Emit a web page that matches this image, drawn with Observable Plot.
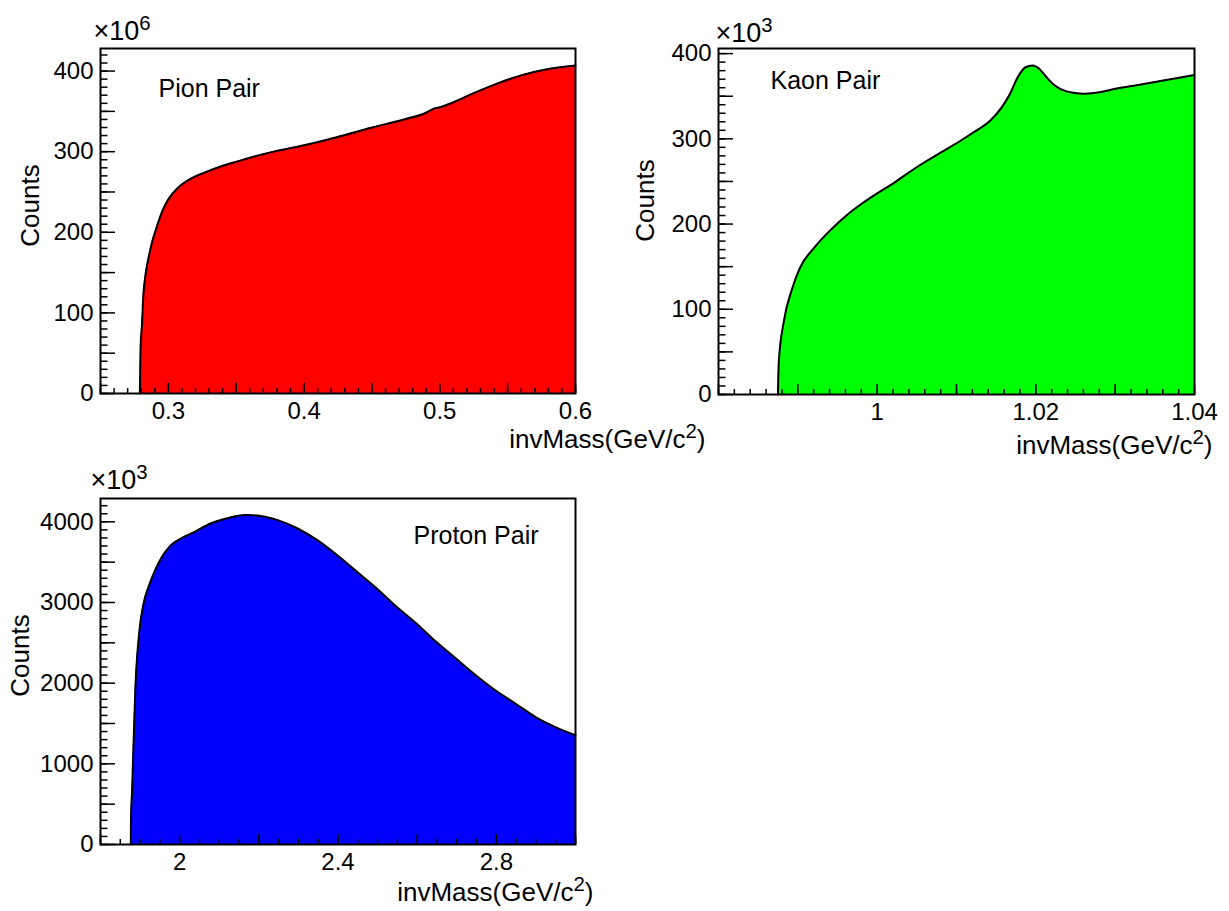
<!DOCTYPE html>
<html><head><meta charset="utf-8">
<script src="https://cdn.jsdelivr.net/npm/d3@7"></script>
<script src="https://cdn.jsdelivr.net/npm/@observablehq/plot@0.6"></script>
<style>
html,body{margin:0;padding:0;background:#fff;}
#wrap{position:relative;width:1229px;height:911px;overflow:hidden;background:#fff;}
.panel{position:absolute;}
.panel svg{overflow:visible;display:block;}
</style></head><body><div id="wrap"></div>
<script>
// ---- Pion pair (counts in units of 10^6) ----
const pionMass   = [0.2790,0.2795,0.2806,0.2815,0.2829,0.2850,0.2873,0.2917,0.2960,0.3000,0.3075,0.3160,0.3280,0.3390,0.3510,0.3655,0.3800,0.4000,0.4240,0.4500,0.4735,0.4895,0.4965,0.5000,0.5080,0.5255,0.5430,0.5605,0.5780,0.6000];
const pionCounts = [0,55,87,120,144,165,183,208,228,241,256,266,275,282,288,295,301,308,318,330,340,348,354,355,360,373,385,395,402,407];

// ---- Kaon pair (counts in units of 10^3) ----
const kaonMass   = [0.98749,0.98760,0.98824,0.98924,0.99024,0.99223,0.99423,0.99623,0.99823,1.00000,1.00222,1.00422,1.00622,1.00821,1.01021,1.01220,1.01420,1.01570,1.01670,1.01770,1.01870,1.01960,1.02045,1.02120,1.02220,1.02320,1.02470,1.02620,1.02820,1.03020,1.03270,1.03520,1.03770,1.04000];
const kaonCounts = [0,38,86,123,148,174,194,211,225,236,249,262,274,285,296,308,321,337,352,372,384,386,382,374,364,358,354,353,355,359,363,367,371,375];

// ---- Proton pair (counts in units of 10^3) ----
const protonMass   = [1.8765,1.8770,1.880,1.888,1.898,1.908,1.923,1.938,1.958,1.978,2.003,2.038,2.078,2.118,2.168,2.208,2.248,2.298,2.348,2.403,2.448,2.498,2.548,2.603,2.648,2.698,2.748,2.803,2.848,2.898,2.948,3.000];
const protonCounts = [0,300,694,1934,2636,2967,3215,3400,3587,3711,3793,3876,3979,4041,4083,4070,4021,3917,3773,3566,3380,3174,2946,2719,2512,2306,2099,1893,1748,1583,1459,1355];

// ---- axis tick labels ----
const pionXLabels = [0.3,0.4,0.5,0.6];
const pionYLabels = [0,100,200,300,400];
const kaonXLabels = [1.00,1.02,1.04];
const kaonYLabels = [0,100,200,300,400];
const protonXLabels = [2.0,2.4,2.8];
const protonYLabels = [0,1000,2000,3000,4000];

const FONT = "'Liberation Sans', Arial, Helvetica, sans-serif";
const LABEL_SIZE = 24, TITLE_SIZE = 26, NAME_SIZE = 25, EXP_SIZE = 27;

function steps(start, stop, step) {
  const n = Math.round((stop - start) / step);
  return d3.range(n + 1).map(i => +(start + i * step).toFixed(6));
}
const fmt = d => String(+(+d).toFixed(3));

function panel(c) {
  const fw = c.width - c.ml - c.mr, fh = c.height - c.mt - c.mb;
  const data = c.xs.map((x, i) => ({x, y: c.ys[i]}));
  const xMinor = steps(c.xDomain[0], c.xDomain[1], c.xMinor);
  const xMajor = steps(c.xDomain[0], c.xDomain[1], c.xMajor);
  const yMinor = steps(0, c.yDomain[1], c.yMinor).filter(v => v <= c.yDomain[1]);
  const yMajor = steps(0, c.yDomain[1], c.yMajor).filter(v => v <= c.yDomain[1]);
  const svg = Plot.plot({
    width: c.width, height: c.height,
    marginTop: c.mt, marginRight: c.mr, marginBottom: c.mb, marginLeft: c.ml,
    style: {fontFamily: FONT, fontSize: LABEL_SIZE + "px", color: "#000", background: "transparent", overflow: "visible"},
    x: {domain: c.xDomain, axis: null},
    y: {domain: c.yDomain, axis: null},
    marks: [
      Plot.areaY(data, {x: "x", y: "y", fill: c.fill, curve: "monotone-x"}),
      Plot.lineY(data, {x: "x", y: "y", stroke: "#000", strokeWidth: 2, curve: "monotone-x"}),
      Plot.ruleX(xMinor, {x: d => d, insetTop: fh - 5, stroke: "#000", strokeWidth: 1.5}),
      Plot.ruleX(xMajor, {x: d => d, insetTop: fh - 10, stroke: "#000", strokeWidth: 1.5}),
      Plot.ruleY(yMinor, {y: d => d, insetRight: fw - 7.5, stroke: "#000", strokeWidth: 1.5}),
      Plot.ruleY(yMajor, {y: d => d, insetRight: fw - 15, stroke: "#000", strokeWidth: 1.5}),
      Plot.frame({stroke: "#000", strokeWidth: 2}),
      Plot.axisX({ticks: c.xLabels, tickSize: 0, tickPadding: 8, tickFormat: fmt, fontSize: LABEL_SIZE, label: null}),
      Plot.axisY({ticks: c.yLabels, tickSize: 0, tickPadding: 7, tickFormat: fmt, fontSize: LABEL_SIZE, label: null}),
      Plot.text([c.exp], {frameAnchor: "top-left", dx: c.expPos[0], dy: c.expPos[1], textAnchor: "start", lineAnchor: "middle", fontSize: EXP_SIZE}),
      Plot.text(["Counts"], {frameAnchor: "top-left", dx: c.countsPos[0], dy: c.countsPos[1], rotate: -90, textAnchor: "middle", lineAnchor: "middle", fontSize: TITLE_SIZE}),
      Plot.text(["invMass(GeV/c^{2})"], {frameAnchor: "bottom-right", dx: c.titlePos[0], dy: c.titlePos[1], textAnchor: "end", lineAnchor: "middle", fontSize: TITLE_SIZE}),
      Plot.text([c.name], {frameAnchor: "top-left", dx: c.namePos[0], dy: c.namePos[1], textAnchor: "start", lineAnchor: "middle", fontSize: NAME_SIZE})
    ]
  });
  // superscripts
  d3.select(svg).selectAll("text").each(function () {
    const t = this.textContent;
    const m = t.match(/^(.*)\^\{(.*?)\}(.*)$/);
    if (!m) return;
    const size = parseFloat(this.getAttribute("font-size")) || LABEL_SIZE;
    const sel = d3.select(this);
    sel.text(null);
    sel.append("tspan").text(m[1]);
    sel.append("tspan").attr("dy", -0.42 * size).attr("font-size", 0.85 * size).text(m[2]);
    if (m[3]) sel.append("tspan").attr("dy", 0.42 * size).text(m[3]);
  });
  const div = document.createElement("div");
  div.className = "panel";
  div.style.left = c.left + "px";
  div.style.top = c.top + "px";
  div.style.width = c.width + "px";
  div.style.height = c.height + "px";
  div.appendChild(svg);
  document.getElementById("wrap").appendChild(div);
}

panel({
  left: 0, top: 0, width: 720, height: 455, mt: 48, mr: 145, mb: 62, ml: 100,
  xs: pionMass, ys: pionCounts, fill: "#ff0000",
  xDomain: [0.25, 0.6], yDomain: [0, 428],
  xMinor: 0.01, xMajor: 0.05, yMinor: 10, yMajor: 50,
  xLabels: pionXLabels, yLabels: pionYLabels,
  exp: "×10^{6}", expPos: [-7, -17], countsPos: [-70, 157], titlePos: [130, 46],
  name: "Pion Pair", namePos: [58, 40]
});
panel({
  left: 600, top: 0, width: 629, height: 455, mt: 48, mr: 35, mb: 61, ml: 118,
  xs: kaonMass, ys: kaonCounts, fill: "#00ff00",
  xDomain: [0.98, 1.04], yDomain: [0, 406],
  xMinor: 0.002, xMajor: 0.01, yMinor: 10, yMajor: 50,
  xLabels: kaonXLabels, yLabels: kaonYLabels,
  exp: "×10^{3}", expPos: [-3, -15], countsPos: [-73, 152], titlePos: [18, 51],
  name: "Kaon Pair", namePos: [52, 32]
});
panel({
  left: 0, top: 455, width: 620, height: 456, mt: 43, mr: 45, mb: 67, ml: 100,
  xs: protonMass, ys: protonCounts, fill: "#0000ff",
  xDomain: [1.8, 3.0], yDomain: [0, 4289],
  xMinor: 0.05, xMajor: 0.2, yMinor: 100, yMajor: 500,
  xLabels: protonXLabels, yLabels: protonYLabels,
  exp: "×10^{3}", expPos: [-10, -18], countsPos: [-80, 157], titlePos: [18, 48],
  name: "Proton Pair", namePos: [313, 37]
});
</script></body></html>
